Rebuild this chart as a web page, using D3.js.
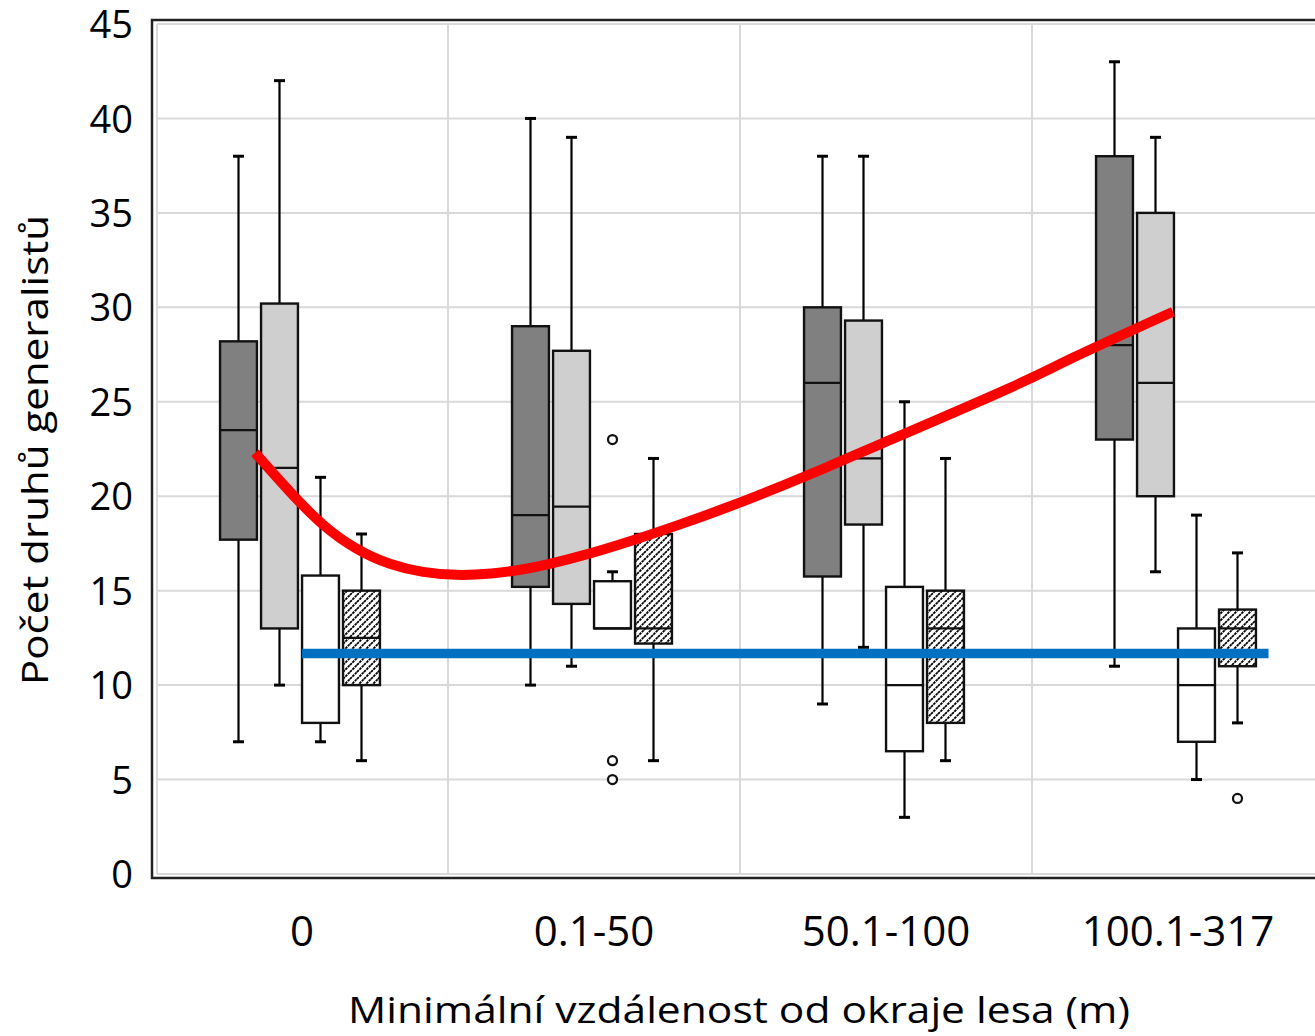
<!DOCTYPE html>
<html>
<head>
<meta charset="utf-8">
<script src="https://cdn.jsdelivr.net/npm/d3@7/dist/d3.min.js"></script>
<style>
  html, body { margin: 0; padding: 0; background: #fff; }
  svg { display: block; }
  text { font-family: "Open Sans", "Noto Sans", sans-serif; fill: #000; }
</style>
</head>
<body>
<svg id="chart" width="1315" height="1036"></svg>
<script>
// ---------- data ----------
const categories = ["0", "0.1-50", "50.1-100", "100.1-317"];
const groups = ["dark", "light", "white", "hatch"];
const yTicks = [0, 5, 10, 15, 20, 25, 30, 35, 40, 45];

// [min, q1, median, q3, max] per category
const darkStats  = [[7, 17.7, 23.5, 28.2, 38], [10, 15.2, 19, 29, 40], [9, 15.75, 26, 30, 38], [11, 23, 28, 38, 43]];
const lightStats = [[10, 13, 21.5, 30.2, 42], [11, 14.3, 19.45, 27.7, 39], [12, 18.5, 22, 29.3, 38], [16, 20, 26, 35, 39]];
const whiteStats = [[7, 8, 11.7, 15.8, 21], [13, 13, 13, 15.5, 16], [3, 6.5, 10, 15.2, 25], [5, 7, 10, 13, 19]];
const hatchStats = [[6, 10, 12.5, 15, 18], [6, 12.2, 13, 18, 22], [6, 8, 13, 15, 22], [8, 11, 13, 14, 17]];

const whiteOutliers = [[], [23, 6, 5], [], []];
const hatchOutliers = [[], [], [], [4]];
const darkOutliers = [[], [], [], []];
const lightOutliers = [[], [], [], []];

// red trend curve (x in category units, 0 = first category)
const trendX = [-0.161, -0.041, 0.072, 0.187, 0.301, 0.414, 0.530, 0.644, 0.781, 0.952, 1.123, 1.295, 1.466, 1.637, 1.808, 1.911, 2.493, 2.596, 2.983];
const trendY = [22.3, 20.2, 18.4, 17.15, 16.36, 15.95, 15.8, 15.88, 16.15, 16.8, 17.6, 18.5, 19.45, 20.5, 21.6, 22.3, 26.15, 27.05, 29.77];

// blue reference line
const refX = [0, 3.31];
const refY = [11.68, 11.68];

const xTitle = "Minimální vzdálenost od okraje lesa (m)";
const yTitle = "Počet druhů generalistů";

// ---------- layout ----------
const svg = d3.select("#chart");
const plotL = 156, plotR = 1324, plotT = 24, plotB = 874;

const x = d3.scaleBand().domain(categories).range([plotL, plotR]).paddingInner(0).paddingOuter(0);
const xLin = d3.scaleLinear().domain([-0.5, categories.length - 0.5]).range([plotL, plotR]);
const inner = d3.scaleBand().domain(groups).range([-84, 80]);
const y = d3.scaleLinear().domain([0, 45]).range([plotB, plotT]);

const defs = svg.append("defs");
const pat = defs.append("pattern")
  .attr("id", "hatch").attr("patternUnits", "userSpaceOnUse")
  .attr("width", 7).attr("height", 7);
pat.append("rect").attr("width", 7).attr("height", 7).attr("fill", "#fff");
pat.append("path")
  .attr("d", "M-1.75,1.75 L1.75,-1.75 M0,7 L7,0 M5.25,8.75 L8.75,5.25")
  .attr("stroke", "#000").attr("stroke-width", 1.8).attr("stroke-dasharray", "2.6,0.8");

// gridlines
const grid = svg.append("g");
grid.selectAll("line.h").data(yTicks).join("line")
  .attr("x1", plotL + 1).attr("x2", plotR)
  .attr("y1", d => y(d)).attr("y2", d => y(d))
  .attr("stroke", "#d9d9d9").attr("stroke-width", 2);
grid.selectAll("line.v").data(categories).join("line")
  .attr("x1", d => x(d) + (d === categories[0] ? 1 : 0)).attr("x2", d => x(d) + (d === categories[0] ? 1 : 0))
  .attr("y1", plotT).attr("y2", plotB)
  .attr("stroke", "#d9d9d9").attr("stroke-width", 2);

// frame
svg.append("path")
  .attr("d", `M${plotR + 20},${plotT - 4} H${plotL - 4} V${plotB + 4} H${plotR + 20}`)
  .attr("fill", "none").attr("stroke", "#222").attr("stroke-width", 2.5);

// boxes
const series = [
  { key: "dark", stats: darkStats, out: darkOutliers, fill: "#808080" },
  { key: "light", stats: lightStats, out: lightOutliers, fill: "#d0cfd0" },
  { key: "white", stats: whiteStats, out: whiteOutliers, fill: "#ffffff" },
  { key: "hatch", stats: hatchStats, out: hatchOutliers, fill: "url(#hatch)" }
];
const bw = inner.bandwidth() * 0.9;
const capW = 11;

const boxes = svg.append("g");
series.forEach(s => {
  categories.forEach((c, i) => {
    const [mn, q1, md, q3, mx] = s.stats[i];
    const cx = x(c) + x.bandwidth() / 2 + inner(s.key) + inner.bandwidth() / 2;
    const g = boxes.append("g");
    if (mx > q3) {
      g.append("line").attr("x1", cx).attr("x2", cx).attr("y1", y(q3)).attr("y2", y(mx))
        .attr("stroke", "#000").attr("stroke-width", 2.2);
      g.append("line").attr("x1", cx - capW / 2).attr("x2", cx + capW / 2).attr("y1", y(mx)).attr("y2", y(mx))
        .attr("stroke", "#000").attr("stroke-width", 3);
    }
    if (mn < q1) {
      g.append("line").attr("x1", cx).attr("x2", cx).attr("y1", y(q1)).attr("y2", y(mn))
        .attr("stroke", "#000").attr("stroke-width", 2.2);
      g.append("line").attr("x1", cx - capW / 2).attr("x2", cx + capW / 2).attr("y1", y(mn)).attr("y2", y(mn))
        .attr("stroke", "#000").attr("stroke-width", 3);
    }
    g.append("rect")
      .attr("x", cx - bw / 2).attr("width", bw)
      .attr("y", y(q3)).attr("height", y(q1) - y(q3))
      .attr("fill", s.fill).attr("stroke", "#111").attr("stroke-width", 2.4);
    g.append("line").attr("x1", cx - bw / 2).attr("x2", cx + bw / 2).attr("y1", y(md)).attr("y2", y(md))
      .attr("stroke", "#111").attr("stroke-width", 2.2);
    g.selectAll("circle").data(s.out[i]).join("circle")
      .attr("cx", cx).attr("cy", d => y(d)).attr("r", 4.5)
      .attr("fill", "#fff").attr("stroke", "#111").attr("stroke-width", 2.2);
  });
});

// blue line
svg.append("path")
  .datum(d3.zip(refX, refY))
  .attr("d", d3.line().x(d => xLin(d[0])).y(d => y(d[1])))
  .attr("fill", "none").attr("stroke", "#0070c0").attr("stroke-width", 9.5);

// red curve
svg.append("path")
  .datum(d3.zip(trendX, trendY))
  .attr("d", d3.line().x(d => xLin(d[0])).y(d => y(d[1])).curve(d3.curveBasis))
  .attr("fill", "none").attr("stroke", "#ff0000").attr("stroke-width", 10);

// y axis labels
svg.append("g").selectAll("text").data(yTicks).join("text")
  .attr("x", 133).attr("y", d => y(d)).attr("dy", "0.37em")
  .attr("text-anchor", "end").attr("font-size", 38)
  .text(d => d);

// x axis labels
svg.append("g").selectAll("text").data(categories).join("text")
  .attr("x", d => x(d) + x.bandwidth() / 2).attr("y", 946)
  .attr("text-anchor", "middle").attr("font-size", 42)
  .text(d => d);

// titles
svg.append("text")
  .attr("x", (plotL + plotR) / 2 - 1).attr("y", 1023)
  .attr("text-anchor", "middle").attr("font-size", 36)
  .attr("textLength", 782).attr("lengthAdjust", "spacingAndGlyphs")
  .text(xTitle);

svg.append("text")
  .attr("transform", `translate(48,${(plotT + plotB) / 2 + 1}) rotate(-90)`)
  .attr("text-anchor", "middle").attr("font-size", 36)
  .attr("textLength", 470).attr("lengthAdjust", "spacingAndGlyphs")
  .text(yTitle);
</script>
</body>
</html>
